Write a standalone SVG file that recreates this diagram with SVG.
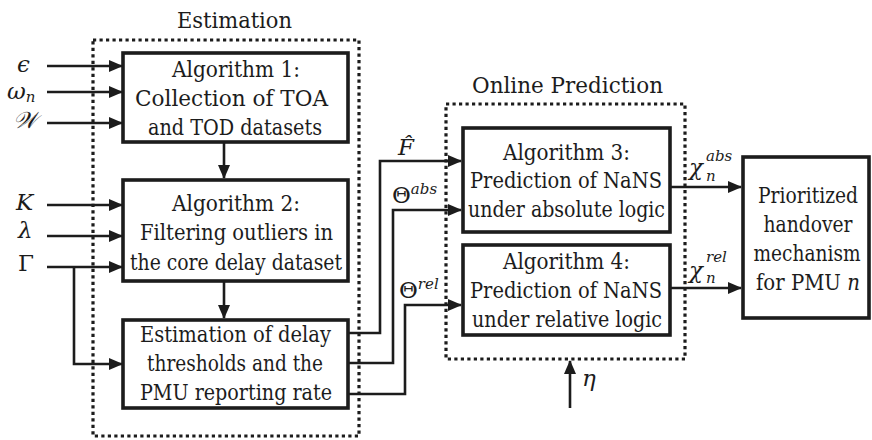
<svg xmlns="http://www.w3.org/2000/svg" width="872" height="440" viewBox="0 0 872 440">
  <style>
    .box { fill: #fff; stroke: #1c1c1c; stroke-width: 3.6; }
    .group { fill: none; stroke: #1c1c1c; stroke-width: 3.2; stroke-dasharray: 3.2 3.3; }
    .wire { fill: none; stroke: #1c1c1c; stroke-width: 2.6; }
    text { fill: #1c1c1c; font-family: "DejaVu Serif Condensed", "DejaVu Serif", serif; }
    .txt { font-size: 23px; text-anchor: middle; }
    .math { font-family: "DejaVu Serif", serif; font-size: 23px; font-style: italic; }
    .up { font-style: normal; }
    .sm { font-family: "DejaVu Serif", serif; font-size: 15px; font-style: italic; }
  </style>
  <defs>
    <marker id="ah" markerWidth="14" markerHeight="12" refX="13" refY="6" orient="auto" markerUnits="userSpaceOnUse">
      <path d="M0,0 L14,6 L0,12 z" fill="#1c1c1c"/>
    </marker>
  </defs>

  <!-- dotted grouping frames with their headings -->
  <g id="estimation-frame">
    <rect class="group" x="93" y="40" width="266" height="396"/>
    <text class="txt" x="234.5" y="28" textLength="115" lengthAdjust="spacingAndGlyphs">Estimation</text>
  </g>
  <g id="online-frame">
    <rect class="group" x="446" y="104" width="239" height="255"/>
    <text class="txt" x="567.5" y="93" textLength="191" lengthAdjust="spacingAndGlyphs">Online Prediction</text>
  </g>

  <!-- connectors -->
  <g id="connectors">
    <path class="wire" d="M47,66 H122" marker-end="url(#ah)"/>
    <path class="wire" d="M47,92 H122" marker-end="url(#ah)"/>
    <path class="wire" d="M47,123 H122" marker-end="url(#ah)"/>
    <path class="wire" d="M47,205 H122" marker-end="url(#ah)"/>
    <path class="wire" d="M47,236 H122" marker-end="url(#ah)"/>
    <path class="wire" d="M47,267 H122" marker-end="url(#ah)"/>
    <path class="wire" d="M74,267 V364 H122" marker-end="url(#ah)"/>
    <path class="wire" d="M224,142 V178" marker-end="url(#ah)"/>
    <path class="wire" d="M224,281 V318" marker-end="url(#ah)"/>
    <path class="wire" d="M348,333 H380 V161 H461" marker-end="url(#ah)"/>
    <path class="wire" d="M348,363 H393 V210 H461" marker-end="url(#ah)"/>
    <path class="wire" d="M348,394 H405 V305 H461" marker-end="url(#ah)"/>
    <path class="wire" d="M670,187 H741" marker-end="url(#ah)"/>
    <path class="wire" d="M670,288 H741" marker-end="url(#ah)"/>
    <path class="wire" d="M570,408 V361" marker-end="url(#ah)"/>
  </g>

  <!-- parameter and signal symbols -->
  <g id="labels">
    <text class="math" x="17" y="72">ϵ</text>
    <text class="math" x="7" y="99">ω<tspan class="sm" dy="3">n</tspan></text>
    <text class="math" x="13" y="128">𝒲</text>
    <text class="math" x="16" y="210">K</text>
    <text class="math" x="18" y="238">λ</text>
    <text class="math up" x="18" y="271">Γ</text>
    <text class="math" x="398" y="155">F̂</text>
    <text class="math up" x="392" y="203">Θ<tspan class="sm" dy="-9">abs</tspan></text>
    <text class="math up" x="399" y="298">Θ<tspan class="sm" dy="-9">rel</tspan></text>
    <text class="math" x="689" y="175">χ</text>
    <text class="sm" x="706" y="161">abs</text>
    <text class="sm" x="706" y="181">n</text>
    <text class="math" x="689" y="278">χ</text>
    <text class="sm" x="706" y="262">rel</text>
    <text class="sm" x="706" y="283">n</text>
    <text class="math" x="582" y="386">η</text>
  </g>

  <!-- processing blocks -->
  <g id="alg1">
    <rect class="box" x="123" y="53" width="225" height="89"/>
    <text class="txt" x="236" y="77" textLength="128" lengthAdjust="spacingAndGlyphs">Algorithm 1:</text>
    <text class="txt" x="231.5" y="106" textLength="193" lengthAdjust="spacingAndGlyphs">Collection of TOA</text>
    <text class="txt" x="235" y="135" textLength="174" lengthAdjust="spacingAndGlyphs">and TOD datasets</text>
  </g>
  <g id="alg2">
    <rect class="box" x="123" y="180" width="225" height="101"/>
    <text class="txt" x="236" y="211" textLength="128" lengthAdjust="spacingAndGlyphs">Algorithm 2:</text>
    <text class="txt" x="236.5" y="240" textLength="193" lengthAdjust="spacingAndGlyphs">Filtering outliers in</text>
    <text class="txt" x="236" y="270" textLength="212" lengthAdjust="spacingAndGlyphs">the core delay dataset</text>
  </g>
  <g id="estimate">
    <rect class="box" x="123" y="320" width="225" height="88"/>
    <text class="txt" x="235.5" y="342" textLength="191" lengthAdjust="spacingAndGlyphs">Estimation of delay</text>
    <text class="txt" x="235" y="371" textLength="176" lengthAdjust="spacingAndGlyphs">thresholds and the</text>
    <text class="txt" x="236" y="400" textLength="192" lengthAdjust="spacingAndGlyphs">PMU reporting rate</text>
  </g>
  <g id="alg3">
    <rect class="box" x="463" y="128" width="207" height="104"/>
    <text class="txt" x="566.5" y="160" textLength="127" lengthAdjust="spacingAndGlyphs">Algorithm 3:</text>
    <text class="txt" x="566" y="188" textLength="192" lengthAdjust="spacingAndGlyphs">Prediction of NaNS</text>
    <text class="txt" x="566.5" y="217" textLength="197" lengthAdjust="spacingAndGlyphs">under absolute logic</text>
  </g>
  <g id="alg4">
    <rect class="box" x="463" y="245" width="207" height="90"/>
    <text class="txt" x="566.5" y="269" textLength="127" lengthAdjust="spacingAndGlyphs">Algorithm 4:</text>
    <text class="txt" x="566" y="298" textLength="192" lengthAdjust="spacingAndGlyphs">Prediction of NaNS</text>
    <text class="txt" x="567" y="327" textLength="190" lengthAdjust="spacingAndGlyphs">under relative logic</text>
  </g>
  <g id="handover">
    <rect class="box" x="743" y="157" width="126" height="161"/>
    <text class="txt" x="808" y="203" textLength="100" lengthAdjust="spacingAndGlyphs">Prioritized</text>
    <text class="txt" x="808" y="232" textLength="89" lengthAdjust="spacingAndGlyphs">handover</text>
    <text class="txt" x="807" y="261" textLength="107" lengthAdjust="spacingAndGlyphs">mechanism</text>
    <text class="txt" x="808" y="290" textLength="104" lengthAdjust="spacingAndGlyphs">for PMU <tspan font-style="italic">n</tspan></text>
  </g>
</svg>
